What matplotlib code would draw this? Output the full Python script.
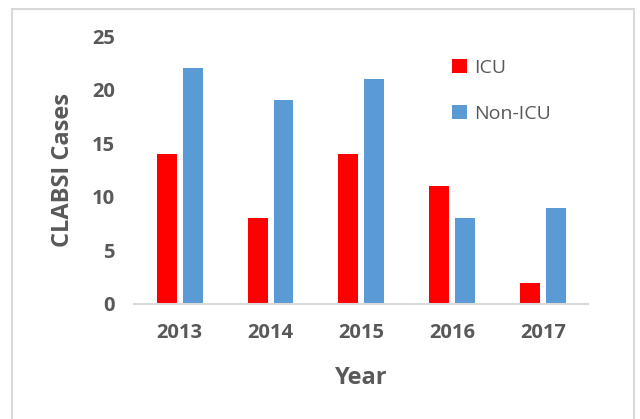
import matplotlib
matplotlib.use("Agg")
from matplotlib import pyplot as plt
from matplotlib.patches import Rectangle
import numpy as np

years = ["2013", "2014", "2015", "2016", "2017"]
icu = [14, 8, 14, 11, 2]
non_icu = [22, 19, 21, 8, 9]

plt.rcParams["font.family"] = ["Open Sans", "DejaVu Sans"]
grey = "#595959"

fig = plt.figure(figsize=(6.4, 4.19), dpi=100)
ax = fig.add_axes([0.21, 0.2745, 0.709, 0.6395])

x = np.arange(len(years))
w = 0.22
ax.bar(x - 0.143, icu, w, color="#ff0000", label="ICU")
ax.bar(x + 0.143, non_icu, w, color="#5b9bd5", label="Non-ICU")

ax.set_xlim(-0.5, len(years) - 0.5)
ax.set_ylim(0, 25)
ax.set_yticks([0, 5, 10, 15, 20, 25])
ax.set_xticks(x)
ax.set_xticklabels(years)

for s in ["top", "right", "left"]:
    ax.spines[s].set_visible(False)
ax.spines["bottom"].set_color("#d9d9d9")
ax.spines["bottom"].set_linewidth(1.5)
ax.tick_params(axis="both", length=0, labelsize=14.5, labelcolor=grey)
ax.tick_params(axis="y", pad=14)
ax.tick_params(axis="x", pad=14)
for t in ax.get_xticklabels() + ax.get_yticklabels():
    t.set_fontweight("bold")

ax.set_ylabel("CLABSI Cases", fontsize=17, fontweight="bold", color=grey)
ax.yaxis.set_label_coords(-0.13, 0.5)
ax.set_xlabel("Year", fontsize=17, fontweight="bold", color=grey)
ax.xaxis.set_label_coords(0.5, -0.23)

leg = ax.legend(loc="upper left", bbox_to_anchor=(0.7, 0.915), frameon=False,
                fontsize=14, labelspacing=1.45, handlelength=0.75, handleheight=0.75,
                handletextpad=0.4, borderpad=0, borderaxespad=0)
for t in leg.get_texts():
    t.set_color(grey)

# light frame around the chart area
fig.patches.append(Rectangle((12 / 640, -0.05), 622 / 640, 1.05 - 9 / 419,
                             transform=fig.transFigure, fill=False,
                             edgecolor="#d9d9d9", linewidth=1.5))

fig.savefig("out.png", dpi=100)
